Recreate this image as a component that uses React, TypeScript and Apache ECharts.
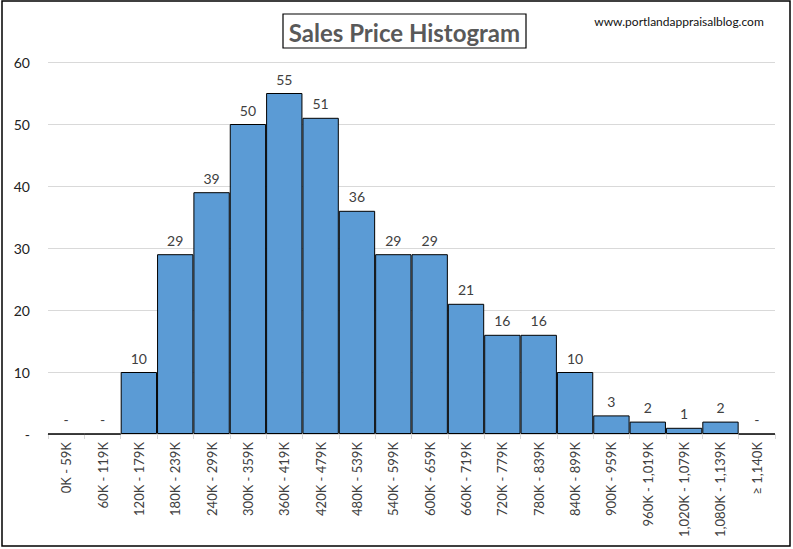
import { useEffect, useRef } from 'react';
import * as echarts from 'echarts';

const categories = [
  '0K - 59K', '60K - 119K', '120K - 179K', '180K - 239K', '240K - 299K',
  '300K - 359K', '360K - 419K', '420K - 479K', '480K - 539K', '540K - 599K',
  '600K - 659K', '660K - 719K', '720K - 779K', '780K - 839K', '840K - 899K',
  '900K - 959K', '960K - 1,019K', '1,020K - 1,079K', '1,080K - 1,139K', '≥ 1,140K',
];
const counts = [0, 0, 10, 29, 39, 50, 55, 51, 36, 29, 29, 21, 16, 16, 10, 3, 2, 1, 2, 0];
const yTicks = [0, 10, 20, 30, 40, 50, 60];

const titleText = 'Sales Price Histogram';
const siteText = 'www.portlandappraisalblog.com';
const font = 'Lato, "Open Sans", sans-serif';

export default function App() {
  const ref = useRef<HTMLDivElement>(null);

  useEffect(() => {
    document.body.style.margin = '0';
    if (!ref.current) return;
    const chart = echarts.init(ref.current, undefined, { renderer: 'svg' });
    chart.setOption({
      animation: false,
      backgroundColor: '#fff',
      textStyle: { fontFamily: font },
      grid: { left: 48, right: 18, top: 62, bottom: 115 },
      xAxis: {
        type: 'category',
        data: categories,
        axisLine: { lineStyle: { color: '#d9d9d9' } },
        axisTick: { show: true, length: 5, lineStyle: { color: '#d9d9d9' } },
        axisLabel: {
          rotate: 90,
          interval: 0,
          margin: 8,
          fontSize: 13,
          color: '#404040',
          fontFamily: font,
        },
      },
      yAxis: {
        type: 'value',
        min: yTicks[0],
        max: yTicks[yTicks.length - 1],
        interval: 10,
        axisLine: { show: false },
        axisTick: { show: false },
        splitLine: { lineStyle: { color: '#d9d9d9' } },
        axisLabel: {
          margin: 18,
          fontSize: 14,
          color: '#222',
          fontFamily: font,
          formatter: (v: number) => (v === 0 ? '-' : String(v)),
        },
      },
      series: [
        {
          type: 'bar',
          data: counts,
          barCategoryGap: '0%',
          itemStyle: { color: '#5b9bd5', borderColor: '#000', borderWidth: 1 },
          label: {
            show: true,
            position: 'top',
            distance: 7,
            fontSize: 14,
            color: '#404040',
            fontFamily: font,
            formatter: (p: any) => (p.value === 0 ? '-' : String(p.value)),
          },
        },
      ],
      graphic: [
        {
          type: 'rect',
          shape: { x: 2, y: 1, width: 788, height: 545 },
          style: { fill: 'none', stroke: '#000', lineWidth: 1.5 },
          silent: true,
        },
        {
          type: 'rect',
          shape: { x: 283, y: 14, width: 243, height: 34 },
          style: { fill: '#fff', stroke: '#000', lineWidth: 1.2 },
        },
        {
          type: 'text',
          x: 404.5,
          y: 32,
          style: {
            text: titleText,
            fontSize: 24,
            fontWeight: 'bold',
            fill: '#595959',
            fontFamily: font,
            align: 'center',
            verticalAlign: 'middle',
          },
        },
        {
          type: 'text',
          x: 679,
          y: 21,
          style: {
            text: siteText,
            fontSize: 12,
            fill: '#111',
            fontFamily: font,
            align: 'center',
            verticalAlign: 'middle',
          },
        },
      ],
    });
    return () => chart.dispose();
  }, []);

  return <div ref={ref} style={{ width: 793, height: 549 }} />;
}
